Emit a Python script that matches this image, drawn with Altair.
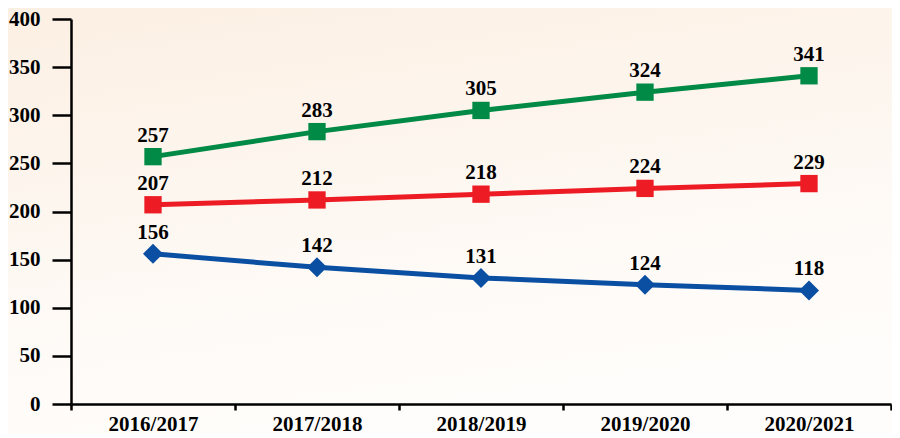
import altair as alt
import pandas as pd

years = ["2016/2017", "2017/2018", "2018/2019", "2019/2020", "2020/2021"]
green_vals = [257, 283, 305, 324, 341]
red_vals = [207, 212, 218, 224, 229]
blue_vals = [156, 142, 131, 124, 118]
series_names = ["green", "red", "blue"]
series_colors = ["#008a45", "#ed1c24", "#0b4fa3"]

rows = []
for name, vals in zip(series_names, [green_vals, red_vals, blue_vals]):
    for y, v in zip(years, vals):
        rows.append({"series": name, "year": y, "value": v})
df = pd.DataFrame(rows)

W, H = 820, 385
FONT = "Liberation Serif"

x = alt.X("year:N", sort=years, title=None,
          scale=alt.Scale(domain=years, paddingInner=0, paddingOuter=0),
          axis=alt.Axis(labelAngle=0, tickBand="extent", tickSize=6, tickWidth=2.5,
                        tickColor="black", domainColor="black", domainWidth=2.5,
                        labelFont=FONT, labelFontSize=21, labelFontWeight="bold",
                        labelColor="black", labelPadding=3, zindex=1))
y = alt.Y("value:Q", title=None,
          scale=alt.Scale(domain=[0, 400], nice=False),
          axis=alt.Axis(values=list(range(0, 401, 50)), tickSize=19, tickWidth=2.5,
                        tickColor="black", domainColor="black", domainWidth=2.5,
                        labelFont=FONT, labelFontSize=21, labelFontWeight="bold",
                        labelColor="black", labelPadding=12, grid=False, zindex=1))
color = alt.Color("series:N", scale=alt.Scale(domain=series_names, range=series_colors), legend=None)

bg = alt.Chart(pd.DataFrame({"a": [0]})).mark_rect(
    clip=False,
    fill=alt.Gradient(gradient="linear", x1=0, y1=0, x2=0.3, y2=1,
                      stops=[alt.GradientStop(color="#fcefe2", offset=0),
                             alt.GradientStop(color="#fefaf6", offset=0.7),
                             alt.GradientStop(color="#fffdfb", offset=1)])
).encode(x=alt.value(-80), x2=alt.value(W + 20), y=alt.value(-20), y2=alt.value(H + 40))

base = alt.Chart(df).encode(x=x, y=y, color=color)
lines = base.mark_line(strokeWidth=5)
points_d = alt.Chart(df[df.series == "blue"]).mark_point(
    filled=True, opacity=1, size=400, shape="diamond").encode(x=x, y=y, color=color)
points_s = alt.Chart(df[df.series != "blue"]).mark_point(
    filled=True, opacity=1, size=300, shape="square").encode(x=x, y=y, color=color)
labels = alt.Chart(df).mark_text(font=FONT, fontSize=21, fontWeight="bold", color="black",
                                 baseline="bottom", dy=-11).encode(x=x, y=y, text="value:Q")

chart = alt.layer(bg, lines, points_s, points_d, labels).properties(
    width=W, height=H,
    autosize=alt.AutoSizeParams(type="none"),
    padding={"left": 63, "top": 11, "right": 1, "bottom": 30},
    background="#fef8f2",
).configure_view(stroke=None)

chart.save("out.html", embed_options={"renderer": "svg", "actions": False})
